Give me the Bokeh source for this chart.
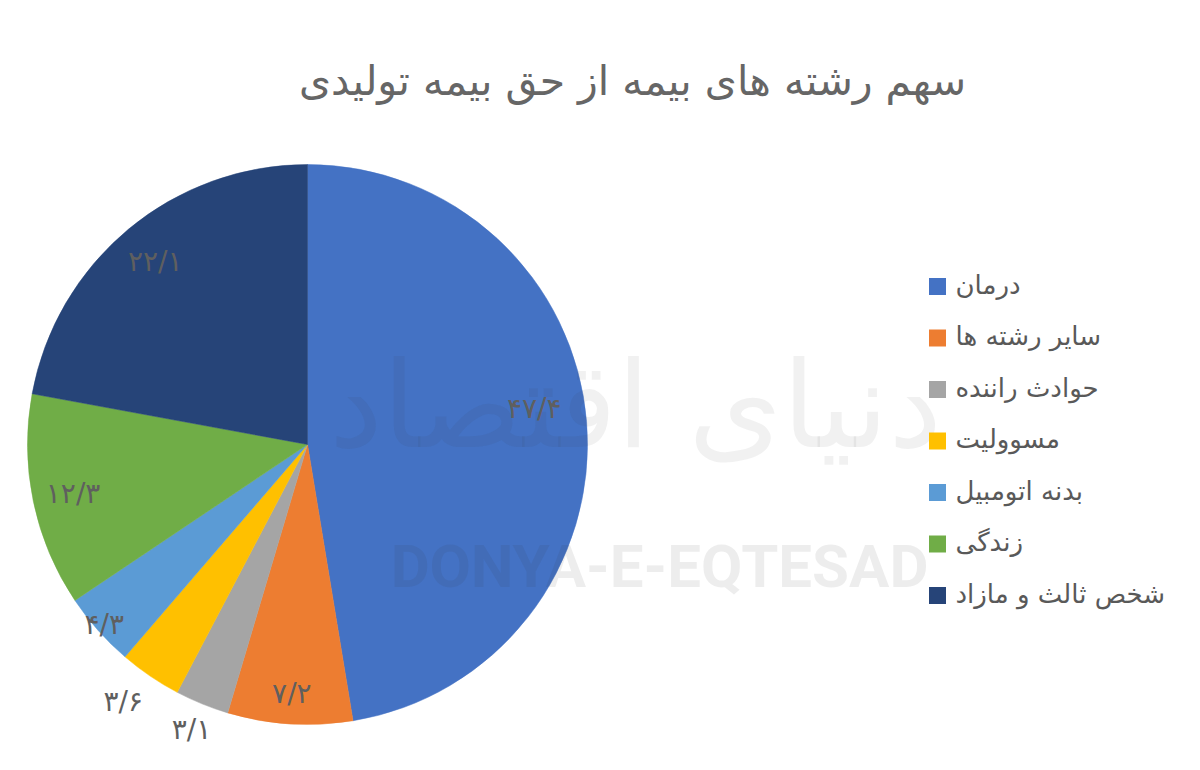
import math
from bokeh.plotting import figure
from bokeh.models import Range1d, ColumnDataSource
from bokeh.core.properties import value
from bokeh.embed import file_html
from bokeh.resources import INLINE

# ---- data ----
title_text = "سهم رشته های بیمه از حق بیمه تولیدی"
categories = ["درمان", "سایر رشته ها", "حوادث راننده", "مسوولیت", "بدنه اتومبیل", "زندگی", "شخص ثالث و مازاد"]
shares = [47.4, 7.2, 3.1, 3.6, 4.3, 12.3, 22.1]
share_labels = ["۴۷/۴", "۷/۲", "۳/۱", "۳/۶", "۴/۳", "۱۲/۳", "۲۲/۱"]
colors = ["#4472C4", "#ED7D31", "#A5A5A5", "#FFC000", "#5B9BD5", "#70AD47", "#264478"]

# ---- layout (pixel-like data space; y measured upward) ----
W, H = 1184, 754
p = figure(width=W, height=H, x_range=Range1d(0, W), y_range=Range1d(770 - H, 770),
           output_backend="svg", toolbar_location=None, min_border=0)
p.axis.visible = False
p.grid.visible = False
p.outline_line_color = None
p.background_fill_color = "white"

def Y(screen_y):
    return 770 - screen_y

cx, cy, R = 307, Y(444), 280
label_r = [0.82, 0.89, 1.10, 1.13, 0.97, 0.855, 0.85]
label_da = [4.4, 0.0, 0.0, -1.4, 0.0, 0.0, 0.0]  # degrees, label placement tweak

total = sum(shares)
starts, ends, lx, ly = [], [], [], []
cum = 0.0
for i, v in enumerate(shares):
    a0 = math.pi / 2 - 2 * math.pi * cum / total
    a1 = math.pi / 2 - 2 * math.pi * (cum + v) / total
    starts.append(a0)
    ends.append(a1)
    mid = (a0 + a1) / 2 + math.radians(label_da[i])
    lx.append(cx + label_r[i] * R * math.cos(mid))
    ly.append(cy + label_r[i] * R * math.sin(mid))
    cum += v

src = ColumnDataSource(dict(start=starts, end=ends, color=colors, lx=lx, ly=ly, lab=share_labels))
p.wedge(x=cx, y=cy, radius=R, start_angle="start", end_angle="end", direction="clock",
        fill_color="color", line_color="color", line_width=0.5, source=src)

# watermark
p.text(x=[635], y=[Y(405)], text=["دنیای اقتصاد"], text_font=value("DejaVu Sans"),
       text_font_size="120px", text_color="#333333", text_alpha=0.07,
       text_align="center", text_baseline="middle")
p.text(x=[659], y=[Y(566)], text=["DONYA-E-EQTESAD"], text_font=value("Roboto"),
       text_font_style="bold", text_font_size="60px", text_color="#333333", text_alpha=0.09,
       text_align="center", text_baseline="middle")

# slice labels
p.text(x="lx", y="ly", text="lab", source=src, text_font=value("DejaVu Sans"),
       text_font_size="28px", text_color="#5F5F5F", text_align="center", text_baseline="middle")

# title
p.text(x=[632], y=[Y(80)], text=[title_text], text_font=value("DejaVu Sans"),
       text_font_size="41px", text_color="#666666", text_align="center", text_baseline="middle")

# legend
leg_y = [Y(286 + 51.5 * i) for i in range(len(categories))]
p.scatter(x=[937] * len(categories), y=leg_y, marker="square", size=17,
          fill_color=colors, line_color=None)
p.text(x=[955] * len(categories), y=[v + 2 for v in leg_y], text=categories, text_font=value("DejaVu Sans"),
       text_font_size="26px", text_color="#595959", text_align="left", text_baseline="middle")

open("out.html", "w").write(file_html(p, INLINE))
